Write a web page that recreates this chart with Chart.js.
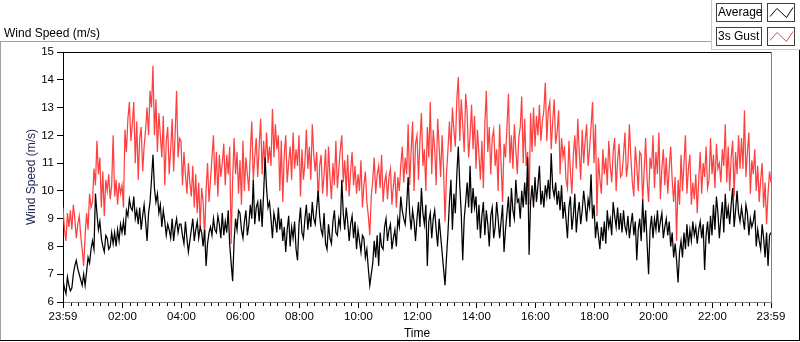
<!DOCTYPE html>
<html>
<head>
<meta charset="utf-8">
<script src="https://cdn.jsdelivr.net/npm/chart.js@4.4.1/dist/chart.umd.min.js"></script>
<style>
  html, body { margin: 0; padding: 0; background: #fff; }
  #wrap { width: 800px; height: 342px; position: relative; }
</style>
</head>
<body>
<div id="wrap"><canvas id="canvas" width="800" height="342"></canvas></div>
<script>
// one reading every 3 minutes, starting 23:59 (20 readings per hour per line)
const stepMinutes = 3;

const tickMinutes = [0, 121, 241, 361, 481, 601, 721, 841, 961, 1081, 1201, 1321, 1440];
const tickLabels = ['23:59', '02:00', '04:00', '06:00', '08:00', '10:00', '12:00',
                    '14:00', '16:00', '18:00', '20:00', '22:00', '23:59'];

const average = [
    6.8, 6.5, 6.3, 6.9, 6.6, 6.4, 6.5, 7.0, 7.3, 7.5, 7.2, 7.0, 6.8, 6.6, 7.0, 6.6, 7.1, 7.6, 7.4, 7.9,
    8.2, 7.9, 9.9, 9.2, 8.6, 8.9, 8.3, 8.0, 7.8, 8.4, 8.3, 7.9, 8.0, 8.5, 8.1, 8.5, 8.0, 8.6, 8.2, 8.8,
    8.5, 8.9, 8.4, 9.3, 9.1, 9.7, 9.4, 9.3, 9.8, 9.0, 9.3, 8.8, 9.4, 8.6, 9.1, 9.5, 8.9, 8.2, 9.2, 9.6,
    10.4, 11.3, 10.1, 9.6, 9.9, 9.2, 9.5, 8.7, 9.3, 8.9, 8.4, 8.8, 8.6, 8.3, 9.0, 8.2, 8.7, 9.0, 8.5, 8.8,
    8.8, 8.4, 8.1, 8.9, 8.3, 7.8, 8.2, 8.6, 9.0, 8.2, 8.6, 8.9, 8.3, 8.7, 8.5, 8.0, 8.6, 7.3, 8.1, 8.5,
    8.7, 8.4, 9.0, 8.6, 8.5, 9.1, 8.8, 8.3, 9.2, 8.4, 8.9, 8.5, 9.3, 8.1, 7.4, 6.75, 8.2, 9.0, 8.6, 9.3,
    9.2, 8.6, 8.3, 8.9, 9.3, 8.4, 8.8, 9.5, 9.0, 10.4, 8.8, 9.4, 9.6, 8.9, 9.7, 8.7, 9.9, 11.2, 10.1, 9.4,
    9.6, 9.0, 8.3, 9.2, 8.9, 8.5, 9.4, 8.6, 9.0, 8.2, 8.7, 7.8, 8.6, 9.1, 8.0, 8.7, 8.3, 8.9, 7.9, 7.5,
    8.8, 9.4, 8.5, 8.3, 9.0, 9.5, 8.6, 9.2, 8.7, 9.6, 9.0, 8.8, 9.4, 10.0, 9.1, 8.6, 8.4, 9.2, 8.1, 7.9,
    8.8, 8.3, 8.1, 8.9, 9.3, 8.5, 8.4, 9.0, 8.7, 10.4, 9.2, 8.6, 9.4, 8.9, 8.2, 8.8, 9.1, 8.3, 8.9, 7.9,
    8.6, 8.2, 7.8, 8.4, 8.3, 7.6, 7.9, 7.2, 6.6, 7.0, 7.4, 8.2, 7.6, 8.4, 7.3, 8.5, 8.0, 7.9, 8.7, 9.0,
    8.2, 8.6, 8.8, 7.9, 8.3, 8.6, 8.0, 9.0, 8.7, 9.8, 9.3, 9.0, 8.8, 9.5, 10.5, 9.2, 8.6, 9.3, 8.9, 8.2,
    9.0, 9.6, 8.7, 10.1, 9.2, 8.8, 9.5, 7.3, 8.9, 9.2, 8.3, 9.0, 9.3, 8.6, 8.0, 9.0, 8.4, 7.8, 7.2, 6.6,
    7.6, 8.5, 9.6, 10.4, 8.6, 9.9, 9.2, 10.6, 11.6, 10.2, 9.2, 7.5, 9.0, 9.6, 10.3, 9.4, 10.9, 9.2, 10.1, 9.4,
    9.8, 8.6, 9.5, 8.3, 9.1, 9.6, 8.4, 9.3, 8.8, 8.0, 9.1, 9.4, 8.3, 8.7, 9.6, 9.0, 8.3, 8.9, 9.5, 7.8,
    8.6, 9.2, 9.8, 8.7, 10.1, 9.3, 9.0, 10.4, 9.6, 9.7, 9.0, 10.0, 9.4, 10.3, 9.5, 11.2, 7.7, 9.6, 10.2, 9.4,
    10.5, 9.6, 10.2, 10.9, 9.5, 10.0, 9.4, 10.2, 9.8, 10.4, 9.7, 11.35, 10.1, 9.8, 10.3, 9.5, 10.0, 9.3, 10.2, 9.0,
    9.6, 9.0, 8.3, 9.4, 9.8, 8.6, 9.1, 9.9, 8.5, 9.2, 9.6, 8.8, 9.3, 10.0, 9.5, 8.9, 9.7, 9.4, 10.6, 9.0,
    9.5, 8.3, 8.9, 8.4, 7.9, 8.7, 8.2, 8.9, 8.1, 9.3, 8.7, 9.0, 8.4, 9.6, 9.1, 8.7, 9.4, 8.6, 9.2, 8.5,
    9.3, 8.7, 8.5, 9.1, 8.3, 8.8, 9.2, 8.4, 8.9, 7.5, 8.6, 9.0, 8.2, 9.7, 8.5, 9.3, 8.1, 7.0, 8.6, 9.1,
    8.3, 9.0, 8.6, 9.3, 8.5, 8.9, 9.2, 8.3, 8.7, 9.0, 8.4, 8.9, 8.0, 8.5, 7.6, 8.1, 7.5, 6.7, 7.8, 8.2,
    7.6, 8.5, 7.9, 8.8, 8.0, 8.6, 8.2, 8.9, 8.4, 8.7, 8.1, 8.6, 8.9, 8.3, 8.8, 7.15, 8.4, 8.9, 8.1, 9.1,
    8.4, 9.5, 8.6, 9.8, 9.2, 8.3, 9.0, 9.6, 8.5, 9.9, 9.0, 9.4, 8.8, 9.5, 10.1, 8.7, 9.3, 10.0, 9.2, 8.9,
    9.4, 9.0, 8.6, 9.5, 9.2, 8.4, 9.0, 8.7, 8.9, 9.3, 8.0, 8.6, 8.2, 7.9, 8.8, 8.3, 7.6, 8.5, 7.3, 8.4,
    8.5
];

const gust = [
    9.4, 8.6, 8.2, 9.2, 8.7, 9.3, 8.6, 9.5, 9.0, 8.3, 8.8, 9.1, 8.4, 7.9, 7.3, 8.4, 9.2, 8.6, 9.9, 9.4,
    9.6, 10.8, 10.2, 11.8, 10.6, 11.2, 9.4, 10.7, 9.1, 10.4, 10.0, 10.6, 9.7, 10.2, 12.0, 9.8, 10.4, 9.5, 10.3, 9.9,
    10.2, 9.4, 12.2, 11.4, 12.6, 13.2, 11.8, 12.4, 13.2, 11.0, 12.5, 10.4, 11.9, 12.3, 10.7, 11.6, 12.2, 13.0, 12.0, 13.6,
    13.0, 14.5, 12.0, 13.3, 11.4, 12.8, 12.0, 11.2, 12.7, 10.2, 11.8, 12.3, 10.6, 11.5, 12.6, 10.7, 12.0, 13.6, 11.2, 11.9,
    11.8, 10.2, 11.4, 10.6, 9.9, 11.0, 10.3, 9.8, 10.9, 9.4, 10.6, 9.2, 10.3, 8.7, 10.1, 9.6, 8.3, 10.0, 11.0, 9.6,
    10.4, 11.2, 12.0, 10.2, 11.4, 9.8, 11.3, 10.5, 11.0, 11.7, 10.2, 11.3, 10.6, 11.6, 8.1, 10.4, 11.9, 10.6, 11.4, 9.9,
    11.1, 9.5, 11.8, 10.0, 11.2, 10.6, 10.0, 11.4, 12.5, 10.4, 11.2, 11.9, 10.5, 11.6, 12.6, 10.6, 11.8, 10.9, 12.1, 11.0,
    11.6, 10.9, 12.95, 11.2, 12.4, 11.5, 12.0, 10.0, 11.8, 9.6, 11.3, 12.0, 10.3, 11.0, 11.6, 10.4, 12.1, 10.8, 11.5, 10.9,
    12.0, 9.8, 11.5, 10.4, 11.0, 12.2, 10.8, 11.6, 10.4, 12.4, 11.3, 10.7, 11.4, 9.6, 10.9, 11.3, 9.9, 10.6, 11.5, 9.8,
    11.6, 10.5, 9.7, 11.0, 10.2, 11.8, 10.1, 10.8, 11.5, 12.0, 10.3, 11.1, 10.0, 11.3, 9.8, 10.7, 11.4, 10.2, 10.9, 9.9,
    10.6, 10.0, 11.1, 9.4, 10.2, 10.7, 9.6, 9.1, 8.4, 9.8, 10.4, 11.2, 9.9, 10.6, 10.9, 10.1, 11.3, 9.6, 10.3, 10.6,
    9.7, 10.5, 10.8, 9.5, 10.2, 10.7, 9.4, 10.5, 10.0, 10.9, 11.6, 10.3, 11.2, 10.6, 12.4, 10.2, 11.4, 12.5, 10.0, 11.7,
    12.0, 10.4, 11.8, 12.8, 10.9, 11.5, 10.0, 12.3, 11.2, 13.2, 10.6, 12.2, 11.5, 10.2, 12.6, 11.6, 10.5, 12.0, 10.8, 8.9,
    10.6, 11.5, 12.5, 11.4, 13.0, 12.2, 11.6, 13.3, 14.1, 11.8, 13.3, 12.4, 11.4, 13.5, 12.8, 11.2, 12.0, 13.1, 11.5, 12.7,
    10.8, 12.2, 11.3, 10.4, 11.8, 10.1, 12.4, 13.6, 11.4, 12.3, 10.6, 11.9, 12.2, 10.9, 11.5, 10.0, 12.4, 11.0, 9.6, 11.7,
    11.2, 12.3, 13.5, 11.0, 12.0, 10.8, 12.4, 11.5, 10.6, 11.9, 12.3, 13.4, 11.0, 12.6, 10.9, 11.4, 9.5, 12.8, 11.4, 13.0,
    11.6, 12.7, 12.0, 13.1, 11.8, 12.5, 12.9, 13.9, 11.8, 12.9, 13.2, 11.5, 12.5, 13.3, 11.7, 12.1, 12.9, 10.6, 11.9, 11.2,
    11.6, 10.4, 10.1, 11.8, 10.7, 9.9, 11.3, 12.0, 10.8, 12.6, 11.4, 10.4, 12.2, 11.0, 11.8, 12.4, 10.9, 11.5, 12.3, 13.2,
    11.0, 12.4, 9.1, 11.2, 10.4, 9.9, 11.5, 10.6, 11.2, 10.2, 11.8, 10.9, 10.3, 11.4, 11.9, 10.0, 11.1, 11.7, 10.5, 10.6,
    11.3, 12.1, 10.5, 11.0, 12.4, 11.2, 10.3, 9.8, 11.6, 10.9, 10.0, 11.4, 11.3, 9.6, 10.7, 11.9, 10.4, 9.6, 11.2, 10.8,
    12.0, 10.1, 11.4, 10.6, 12.1, 9.7, 10.8, 11.5, 10.2, 11.2, 9.9, 10.8, 11.6, 10.4, 9.6, 10.5, 8.2, 10.4, 9.5, 11.3,
    10.0, 11.0, 12.0, 9.9, 10.8, 11.3, 9.5, 10.3, 9.7, 10.6, 9.2, 10.4, 11.4, 9.9, 11.0, 10.5, 11.6, 10.1, 10.4, 11.9,
    10.6, 11.3, 10.1, 11.7, 10.8, 11.0, 10.3, 11.5, 10.9, 12.4, 10.3, 11.6, 10.0, 11.2, 11.8, 9.8, 11.4, 10.6, 12.0, 10.8,
    11.9, 10.8, 12.9, 10.5, 11.4, 12.1, 9.9, 11.1, 10.6, 11.5, 10.0, 10.9, 9.6, 10.4, 11.0, 9.4, 10.3, 8.8, 9.9, 10.7,
    10.3
];

const seriesNames = ['Average', '3s Gust'];
const seriesColors = ['#000000', '#ff4040'];

const FONT = 'Liberation Sans, Arial, sans-serif';

function toPoints(values) {
    return values.map((v, i) => ({ x: i * stepMinutes, y: v }));
}

function hline(ctx, x1, x2, y, color) {
    ctx.strokeStyle = color;
    ctx.beginPath();
    ctx.moveTo(x1, y);
    ctx.lineTo(x2, y);
    ctx.stroke();
}

function vline(ctx, x, y1, y2, color) {
    ctx.strokeStyle = color;
    ctx.beginPath();
    ctx.moveTo(x, y1);
    ctx.lineTo(x, y2);
    ctx.stroke();
}

// panel borders, plot frame, minor time ticks and the LabVIEW style legend
const decorations = {
    id: 'decorations',
    beforeDraw(chart) {
        const ctx = chart.ctx;
        ctx.save();
        ctx.fillStyle = '#fff';
        ctx.fillRect(0, 0, chart.width, chart.height);
        ctx.restore();
    },
    afterDraw(chart) {
        const ctx = chart.ctx;
        const area = chart.chartArea;
        const xs = chart.scales.x;
        ctx.save();
        ctx.lineWidth = 1;

        // outer panel
        hline(ctx, 0, 712, 41.5, '#a0a0a0');
        vline(ctx, 0.5, 41, 341, '#a0a0a0');
        hline(ctx, 0, 800, 340.5, '#000');
        vline(ctx, 799.5, 50, 341, '#000');

        // legend panel
        vline(ctx, 711.5, 0, 50, '#c8c8c8');
        hline(ctx, 711, 800, 49.5, '#c8c8c8');

        // plot frame
        hline(ctx, area.left - 1, area.right + 1, area.top + 0.5, '#000');
        vline(ctx, area.right + 0.5, area.top, area.bottom, '#808080');

        // minor ticks every 15 minutes
        for (let m = 16; m < 1440; m += 15) {
            if (tickMinutes.indexOf(m) >= 0) continue;
            const px = Math.round(xs.getPixelForValue(m)) + 0.5;
            vline(ctx, px, area.bottom + 1, area.bottom + 4, '#000');
        }

        // legend
        ctx.font = '12px ' + FONT;
        ctx.textBaseline = 'middle';
        ctx.textAlign = 'left';
        seriesNames.forEach((name, k) => {
            const top = 3.5 + k * 24;
            ctx.fillStyle = '#fff';
            ctx.fillRect(716, top, 45, 18);
            ctx.fillRect(767, top, 27, 18);
            ctx.strokeStyle = '#404040';
            ctx.strokeRect(716.5, top, 45, 18);
            ctx.strokeRect(767.5, top, 27, 18);
            ctx.fillStyle = '#000';
            ctx.fillText(name, 718, top + 9.5);
            ctx.strokeStyle = seriesColors[k];
            ctx.beginPath();
            ctx.moveTo(770, top + 13);
            ctx.lineTo(777, top + 5);
            ctx.lineTo(786.5, top + 14);
            ctx.lineTo(793, top + 4);
            ctx.stroke();
        });
        ctx.restore();
    }
};

createChart();

function createChart() {

    var ctx = document.getElementById('canvas').getContext('2d');

    var chart = new Chart(ctx, {
        type: 'line',
        data: {
            datasets: [
                {
                    label: seriesNames[0],
                    data: toPoints(average),
                    borderColor: seriesColors[0],
                    borderWidth: 1.25,
                    pointRadius: 0,
                    tension: 0
                },
                {
                    label: seriesNames[1],
                    data: toPoints(gust),
                    borderColor: seriesColors[1],
                    borderWidth: 1.25,
                    pointRadius: 0,
                    tension: 0
                }
            ]
        },
        options: {
            responsive: false,
            animation: false,
            layout: {
                padding: { left: 4, right: 29, top: 0, bottom: 0 }
            },
            plugins: {
                legend: { display: false },
                tooltip: { enabled: false },
                title: {
                    display: true,
                    text: 'Wind Speed (m/s)',
                    align: 'start',
                    color: '#000',
                    font: { family: FONT, size: 12, weight: 'normal' },
                    padding: { top: 26.5, bottom: 11.1 }
                }
            },
            scales: {
                x: {
                    type: 'linear',
                    min: 0,
                    max: 1440,
                    afterBuildTicks: (scale) => {
                        scale.ticks = tickMinutes.map(v => ({ value: v }));
                    },
                    afterFit: (scale) => { scale.height = 40; },
                    ticks: {
                        autoSkip: false,
                        maxRotation: 0,
                        padding: 2,
                        color: '#000',
                        font: { family: FONT, size: 11.5 },
                        callback: (value) => tickLabels[tickMinutes.indexOf(value)]
                    },
                    grid: {
                        drawOnChartArea: false,
                        tickLength: 6,
                        tickColor: '#000'
                    },
                    border: { color: '#808080' },
                    title: {
                        display: true,
                        text: 'Time',
                        color: '#000',
                        font: { family: FONT, size: 12 },
                        padding: { top: 0, bottom: 1 }
                    }
                },
                y: {
                    min: 6,
                    max: 15,
                    afterFit: (scale) => { scale.width = 59; },
                    ticks: {
                        stepSize: 1,
                        padding: 3,
                        color: '#000',
                        font: { family: FONT, size: 11.5 }
                    },
                    grid: {
                        drawOnChartArea: false,
                        tickLength: 6,
                        tickColor: '#000'
                    },
                    border: { color: '#000' },
                    title: {
                        display: true,
                        text: 'Wind Speed (m/s)',
                        color: '#1c2450',
                        font: { family: FONT, size: 12 },
                        padding: { top: 20, bottom: 0 }
                    }
                }
            }
        },
        plugins: [decorations]
    });
}
</script>
</body>
</html>
